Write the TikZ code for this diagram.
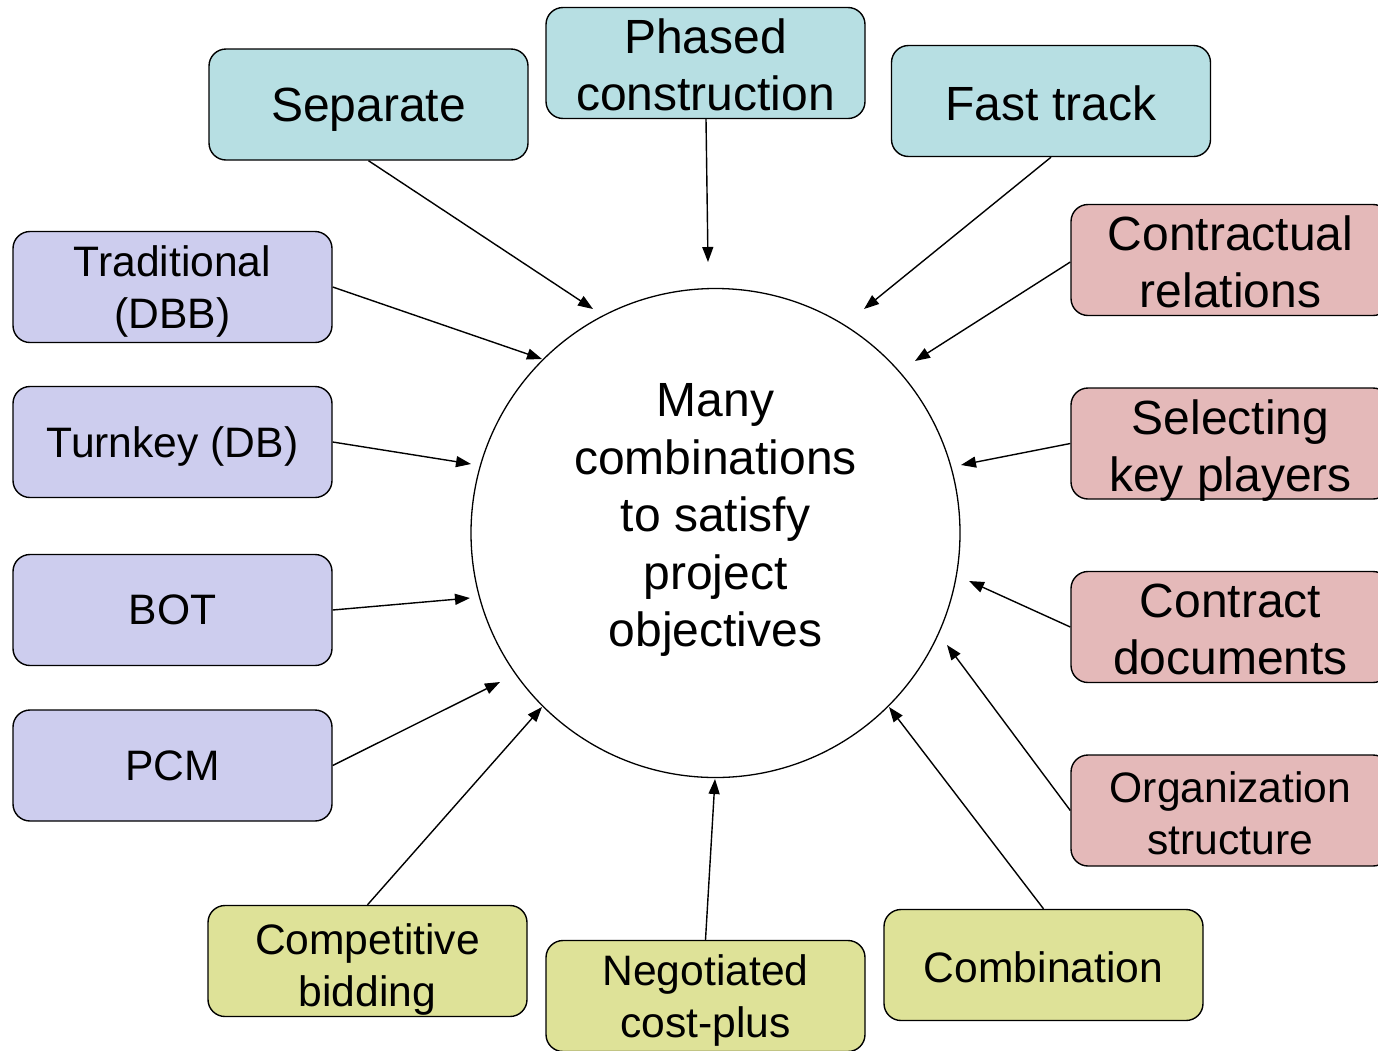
\documentclass[tikz,border=0pt]{standalone}
\usepackage{fontspec}
\setmainfont{Liberation Sans}
\usetikzlibrary{arrows.meta}
\definecolor{cteal}{RGB}{183,223,227}
\definecolor{cpurp}{RGB}{205,205,238}
\definecolor{cpink}{RGB}{228,185,185}
\definecolor{cyell}{RGB}{222,226,152}
\tikzset{
  box/.style={draw=black, line width=1.4pt, rounded corners=17pt, minimum width=319pt, minimum height=111pt,
    inner sep=0pt},
  teal/.style={box, fill=cteal},
  purp/.style={box, fill=cpurp},
  pink/.style={box, fill=cpink},
  yell/.style={box, fill=cyell},
  big/.style={inner sep=0pt, align=center, font=\fontsize{48}{57}\selectfont},
  small/.style={inner sep=0pt, align=center, font=\fontsize{42.6}{52}\selectfont},
  arr/.style={line width=1.4pt, -{Triangle[length=15pt,width=11pt]}},
}
\begin{document}
\begin{tikzpicture}[x=1pt,y=-1pt]
\useasboundingbox (0,0) rectangle (1378,1050);
\node[draw=black, line width=1.3pt, circle, minimum size=489pt, inner sep=0pt] (c) at (715.5,533) {};
\node[inner sep=0pt, align=center, font=\fontsize{48}{57.5}\selectfont] (ct) at (715.5,520) {Many\\combinations\\to satisfy\\project\\objectives};

% boxes
\node[teal] (sep) at (368.5,104.5) {};
\node[teal] (pha) at (705.5,63) {};
\node[teal] (fas) at (1051,101) {};
\node[purp] (tra) at (172.5,287) {};
\node[purp] (tur) at (172.5,442) {};
\node[purp] (bot) at (172.5,610) {};
\node[purp] (pcm) at (172.5,765.5) {};
\node[yell] (com) at (367.5,961) {};
\node[yell] (neg) at (705.5,996) {};
\node[yell] (cmb) at (1043.5,965) {};
\node[pink] (con) at (1230.5,260) {};
\node[pink] (sel) at (1230.5,443.5) {};
\node[pink] (doc) at (1230.5,627) {};
\node[pink] (org) at (1230.5,810.5) {};

% texts
\node[big] (sep-t) at (368.5,110) {Separate};
\node[big] (pha-t) at (705.5,65) {Phased\\construction};
\node[big] (fas-t) at (1051,103) {Fast track};
\node[small] (tra-t) at (172.5,291.5) {Traditional\\(DBB)};
\node[small] (tur-t) at (172.5,446) {Turnkey (DB)};
\node[small] (bot-t) at (172.5,610) {BOT};
\node[small] (pcm-t) at (172.5,766) {PCM};
\node[small] (com-t) at (367.5,969) {Competitive\\bidding};
\node[small] (neg-t) at (705.5,1000.5) {Negotiated\\cost-plus};
\node[small] (cmb-t) at (1043.5,967) {Combination};
\node[big] (con-t) at (1230.5,261.5) {Contractual\\relations};
\node[big] (sel-t) at (1230.5,451) {Selecting\\key players};
\node[big] (doc-t) at (1230.5,629) {Contract\\documents};
\node[small] (org-t) at (1230.5,813) {Organization\\structure};

% arrow tips
\coordinate (tsep) at (593,309);
\coordinate (tpha) at (708,262);
\coordinate (tfas) at (864,309);
\coordinate (ttra) at (542,359);
\coordinate (ttur) at (471,464);
\coordinate (tbot) at (470,598);
\coordinate (tpcm) at (500,682);
\coordinate (tcom) at (542,707);
\coordinate (tneg) at (715,779);
\coordinate (tcmb) at (889,707);
\coordinate (tcon) at (915,361);
\coordinate (tsel) at (961,465);
\coordinate (tdoc) at (969,581);
\coordinate (torg) at (947,645);

\draw[arr] (sep.south) -- (tsep);
\draw[arr] (pha.south) ++(0.5,0) -- (tpha);
\draw[arr] (fas.south) -- (tfas);
\draw[arr] (tra.east) -- (ttra);
\draw[arr] (tur.east) -- (ttur);
\draw[arr] (bot.east) -- (tbot);
\draw[arr] (pcm.east) -- (tpcm);
\draw[arr] (com.north) -- (tcom);
\draw[arr] (neg.north) -- (tneg);
\draw[arr] (cmb.north) -- (tcmb);
\draw[arr] (con.west) ++(0,2) -- (tcon);
\draw[arr] (sel.west) -- (tsel);
\draw[arr] (doc.west) -- (tdoc);
\draw[arr] (org.west) -- (torg);
\end{tikzpicture}
\end{document}
